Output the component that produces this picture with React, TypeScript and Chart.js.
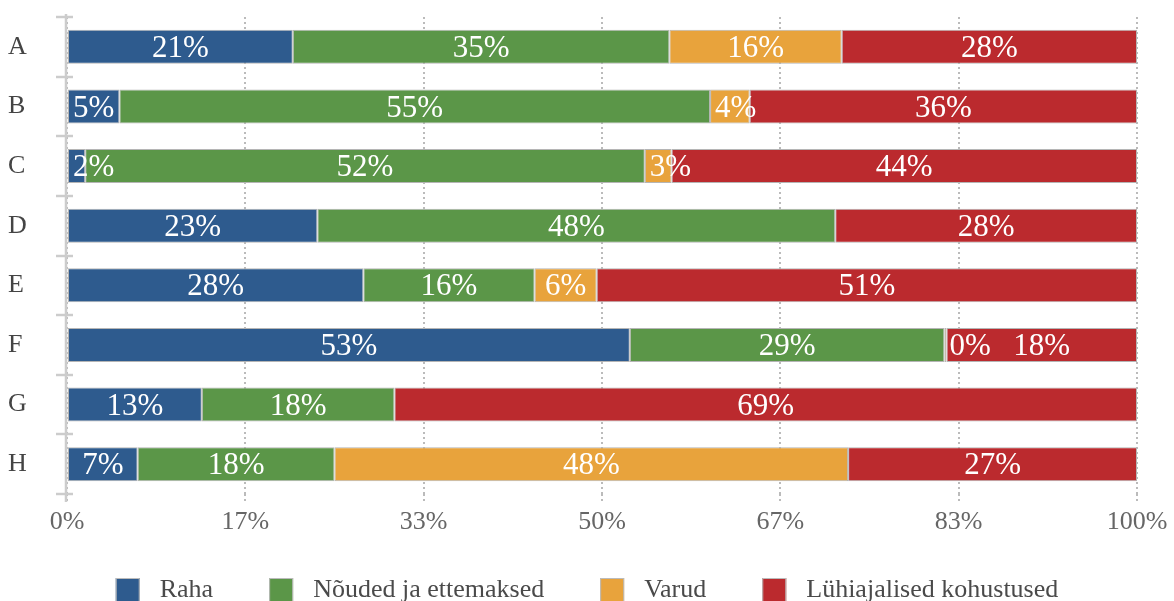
import React, { useEffect, useRef } from "react";
import { Chart, registerables } from "chart.js";

Chart.register(...registerables);

const categories = ["A", "B", "C", "D", "E", "F", "G", "H"];
const seriesNames = ["Raha", "Nõuded ja ettemaksed", "Varud", "Lühiajalised kohustused"];
const seriesColors = ["#2e5b8e", "#5b9648", "#e8a33c", "#bb2a2e"];
const raha = [21.1, 4.9, 1.7, 23.4, 27.7, 52.6, 12.6, 6.6];
const noudedJaEttemaksed = [35.2, 55.2, 52.3, 48.4, 16.0, 29.4, 18.0, 18.4];
const varud = [16.1, 3.7, 2.5, 0, 5.8, 0.2, 0, 48.0];
const luhiajalisedKohustused = [27.6, 36.2, 43.5, 28.2, 50.5, 17.8, 69.4, 27.0];
const xTickLabels = ["0%", "17%", "33%", "50%", "67%", "83%", "100%"];

const FONT = '"Liberation Serif", "Times New Roman", serif';

const dataLabelPlugin = {
  id: "dataLabels",
  afterDatasetsDraw(chart: any) {
    const ctx = chart.ctx;
    ctx.save();
    ctx.font = `31px ${FONT}`;
    ctx.fillStyle = "#ffffff";
    ctx.textBaseline = "middle";
    ctx.textAlign = "center";
    chart.data.datasets.forEach((ds: any, di: number) => {
      const meta = chart.getDatasetMeta(di);
      meta.data.forEach((el: any, i: number) => {
        const v = ds.data[i];
        if (!v) return;
        const text = Math.round(v) + "%";
        const w = ctx.measureText(text).width;
        const left = Math.min(el.x, el.base);
        const right = Math.max(el.x, el.base);
        let x = (left + right) / 2;
        if (right - left < w + 2) x = left + 5 + w / 2;
        ctx.fillText(text, x, el.y + 2);
      });
    });
    ctx.restore();
  },
};

const axisTicksPlugin = {
  id: "axisTicks",
  afterDraw(chart: any) {
    const ctx = chart.ctx;
    const { top, bottom, left } = chart.chartArea;
    const n = categories.length;
    const step = (bottom - top) / n;
    ctx.save();
    ctx.strokeStyle = "#cccccc";
    ctx.lineWidth = 2.5;
    for (let i = 0; i <= n; i++) {
      const y = Math.round(top + i * step);
      ctx.beginPath();
      ctx.moveTo(left - 11, y);
      ctx.lineTo(left + 6, y);
      ctx.stroke();
    }
    ctx.beginPath();
    ctx.moveTo(left - 1, top - 3);
    ctx.lineTo(left - 1, bottom + 8);
    ctx.stroke();
    ctx.restore();
  },
};

const legendPlugin = {
  id: "customLegend",
  afterDraw(chart: any) {
    const ctx = chart.ctx;
    ctx.save();
    ctx.font = `26px ${FONT}`;
    const box = 24;
    const gap = 20;
    const spacing = 56;
    const widths = seriesNames.map((s) => ctx.measureText(s).width);
    const total =
      widths.reduce((a, b) => a + box + gap + b, 0) + spacing * (seriesNames.length - 1);
    let x = (chart.width - total) / 2;
    const y = 578;
    seriesNames.forEach((s, i) => {
      ctx.fillStyle = seriesColors[i];
      ctx.fillRect(x, y, box, box);
      ctx.strokeStyle = "#bbbbbb";
      ctx.lineWidth = 1;
      ctx.strokeRect(x + 0.5, y + 0.5, box - 1, box - 1);
      ctx.fillStyle = "#4a4a4a";
      ctx.textBaseline = "middle";
      ctx.textAlign = "left";
      ctx.fillText(s, x + box + gap, y + 12);
      x += box + gap + widths[i] + spacing;
    });
    ctx.restore();
  },
};

export default function App() {
  const ref = useRef<HTMLCanvasElement>(null);
  useEffect(() => {
    if (!ref.current) return;
    const series = [raha, noudedJaEttemaksed, varud, luhiajalisedKohustused];
    const chart = new Chart(ref.current, {
      type: "bar",
      data: {
        labels: categories,
        datasets: series.map((d, i) => ({
          label: seriesNames[i],
          data: d,
          backgroundColor: seriesColors[i],
          borderColor: "#b5b5b5",
          borderWidth: 1,
          borderSkipped: false,
          barPercentage: 0.57,
          categoryPercentage: 1,
        })),
      },
      options: {
        indexAxis: "y",
        responsive: false,
        animation: false,
        devicePixelRatio: 1,
        layout: { padding: { top: 17, right: 37, left: 8, bottom: 0 } },
        plugins: {
          legend: { display: false },
          tooltip: { enabled: false },
        },
        scales: {
          x: {
            stacked: true,
            min: 0,
            max: 100,
            afterBuildTicks: (scale: any) => {
              scale.ticks = xTickLabels.map((_, i) => ({ value: (i * 100) / (xTickLabels.length - 1) }));
            },
            afterFit: (scale: any) => {
              scale.height = 107;
            },
            ticks: {
              callback: (_v: any, i: number) => xTickLabels[i],
              font: { family: FONT, size: 26 },
              color: "#666666",
              padding: 4,
              maxRotation: 0,
              autoSkip: false,
            },
            grid: {
              color: "#bbbbbb",
              lineWidth: 2,
              tickLength: 9,
              drawTicks: true,
              tickBorderDash: [2, 3],
            },
            border: { display: false, dash: [2, 3] },
          },
          y: {
            stacked: true,
            afterFit: (scale: any) => {
              scale.width = 59;
            },
            ticks: {
              font: { family: FONT, size: 26 },
              color: "#444444",
              padding: 0,
              crossAlign: "far",
            },
            grid: { display: false, drawTicks: false },
            border: { display: false },
          },
        },
      },
      plugins: [dataLabelPlugin, axisTicksPlugin, legendPlugin],
    } as any);
    return () => chart.destroy();
  }, []);
  return (
    <div style={{ position: "fixed", left: 0, top: 0, width: 1174, height: 601, overflow: "hidden", background: "#fff" }}>
      <canvas ref={ref} width={1174} height={601} style={{ width: 1174, height: 601, display: "block" }} />
    </div>
  );
}
